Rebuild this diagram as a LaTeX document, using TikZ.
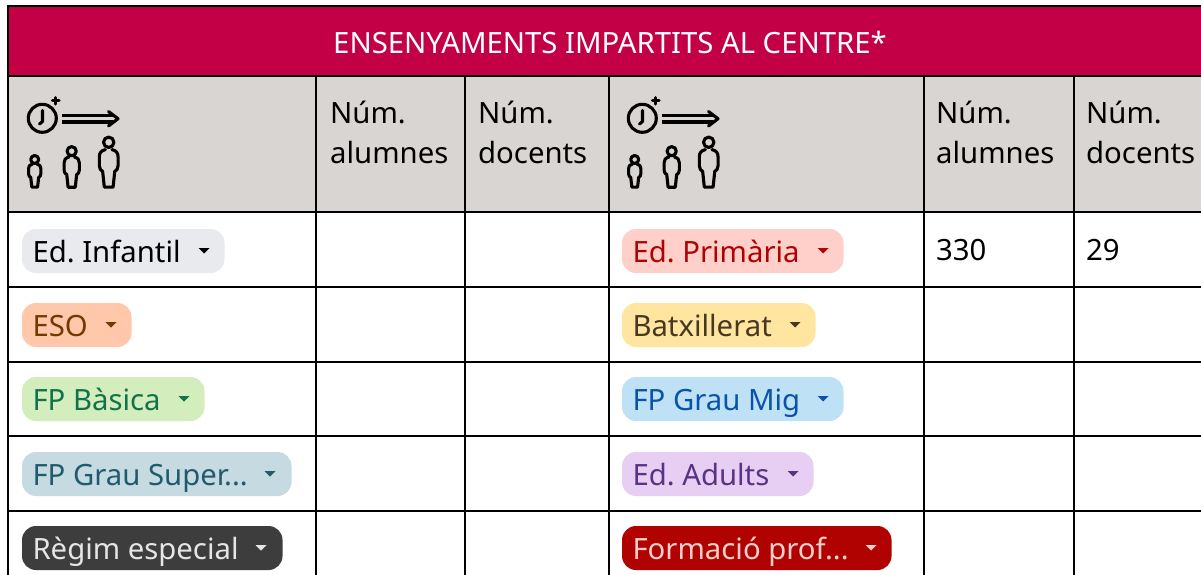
\documentclass[tikz,border=0pt]{standalone}
\usepackage{fontspec}
\setmainfont{Noto Sans}
\definecolor{hdr}{HTML}{C30045}
\definecolor{gry}{HTML}{D9D5D2}
\definecolor{p1}{HTML}{E8EAED}\definecolor{t1}{HTML}{000000}
\definecolor{p2}{HTML}{FFCFC9}\definecolor{t2}{HTML}{B10202}
\definecolor{p3}{HTML}{FFC8AA}\definecolor{t3}{HTML}{753800}
\definecolor{p4}{HTML}{FFE5A0}\definecolor{t4}{HTML}{473821}
\definecolor{p5}{HTML}{D4EDBC}\definecolor{t5}{HTML}{11734B}
\definecolor{p6}{HTML}{BFE1F6}\definecolor{t6}{HTML}{0A53A8}
\definecolor{p7}{HTML}{C6DBE1}\definecolor{t7}{HTML}{215A6C}
\definecolor{p8}{HTML}{E6CFF2}\definecolor{t8}{HTML}{5A3286}
\definecolor{p9}{HTML}{3D3D3D}\definecolor{t9}{HTML}{E5E5E5}
\definecolor{p10}{HTML}{B10202}\definecolor{t10}{HTML}{FFCFC9}
\tikzset{
  grid/.style={black,line width=2pt},
  ic/.style={black,line width=3.1pt,line join=round,line cap=round},
  txt/.style={anchor=base west,inner sep=0pt,font=\frenchspacing\fontsize{29.3}{34}\selectfont},
  cell/.style={txt,black},
}
% #1 name, #2 left x, #3 top y, #4 right x, #5 caret x, #6 colour no., #7 text
\newcommand{\pill}[7]{%
  \fill[p#6,rounded corners=14pt] (#2,#3) rectangle (#4,#3+44);
  \fill[t#6] (#5-5.5,#3+19) -- (#5+5.5,#3+19) -- (#5,#3+24.5) -- cycle;
  \node[txt,text=t#6] (#1) at (#2+10.3,#3+33) {#7};
}
\newcommand{\person}[5]{% cx, head cy, x scale, y scale, head radius
  \draw[ic] (#1,#2) circle (#5);
  \begin{scope}[shift={(#1,#2)},xscale=#3,yscale=#4]
    \draw[ic] (-3,6.5) .. controls (-7,7.5) and (-8.5,9.5) .. (-8.5,13) -- (-8.5,21)
      .. controls (-8.5,24) and (-7,25) .. (-5.5,26) -- (-4,40) -- (4,40) -- (5.5,26)
      .. controls (7,25) and (8.5,24) .. (8.5,21) -- (8.5,13)
      .. controls (8.5,9.5) and (7,7.5) .. (3,6.5);
  \end{scope}
}
\newcommand{\bigicon}[1]{%
  \begin{scope}[shift={(#1,0)}]
    \draw[ic] (42.3,118.3) circle (14);
    \draw[ic] (42.5,110.5) -- (42.5,121.5) -- (39.5,124);
    \draw[ic] (52.5,100.8) -- (59,100.8) (55.7,97.6) -- (55.7,104);
    \draw[ic,line cap=butt] (62,115.2) -- (113,115.2) (62,122) -- (113,122);
    \draw[ic] (108.5,111.5) -- (118,118.7) -- (108.5,126);
    \person{34.7}{159.5}{0.72}{0.69}{4}
    \person{71.7}{151.2}{0.9}{0.9}{4.6}
    \person{108.7}{142.3}{1.1}{1.12}{5.2}
  \end{scope}
}
\begin{document}
\begin{tikzpicture}[x=1pt,y=-1pt]
\useasboundingbox (0,0) rectangle (1201,575);
\clip (0,0) rectangle (1201,575);
\fill[white] (0,0) rectangle (1201,575);
\fill[hdr] (8,6) rectangle (1201,76);
\fill[gry] (8,76) rectangle (1201,212);
\foreach \y in {6,76,212,287,362,436,511} \draw[grid] (7,\y) -- (1201,\y);
\draw[grid] (8,5) -- (8,575);
\foreach \x in {316,465,609,924,1074} \draw[grid] (\x,76) -- (\x,575);
\node[anchor=base,inner sep=0pt,text=white,font=\frenchspacing\fontsize{29.3}{34}\selectfont] (title) at (610,54) {ENSENYAMENTS IMPARTITS AL CENTRE*};
\bigicon{0}
\bigicon{600}
\node[cell] (h1a) at (330,124) {Núm.};
\node[cell] (h1b) at (330,163) {alumnes};
\node[cell] (h2a) at (478,124) {Núm.};
\node[cell] (h2b) at (478,163) {docents};
\node[cell] (h3a) at (936,124) {Núm.};
\node[cell] (h3b) at (936,163) {alumnes};
\node[cell] (h4a) at (1086,124) {Núm.};
\node[cell] (h4b) at (1086,163) {docents};
\node[cell] (v1) at (936,260) {330};
\node[cell] (v2) at (1086,260) {29};
\pill{a1}{22}{229}{224.5}{204}{1}{Ed. Infantil}
\pill{a2}{22}{303}{131.5}{111}{3}{ESO}
\pill{a3}{22}{377}{204.5}{184}{5}{FP Bàsica}
\pill{a4}{22}{452}{291.5}{270}{7}{FP Grau Super...}
\pill{a5}{22}{526}{282.5}{261}{9}{Règim especial}
\pill{b1}{622}{229}{843.5}{823}{2}{Ed. Primària}
\pill{b2}{622}{303}{815.5}{795}{4}{Batxillerat}
\pill{b3}{622}{377}{843.5}{823}{6}{FP Grau Mig}
\pill{b4}{622}{452}{813.5}{793}{8}{Ed. Adults}
\pill{b5}{622}{526}{891.5}{871}{10}{Formació prof...}
\end{tikzpicture}
\end{document}
